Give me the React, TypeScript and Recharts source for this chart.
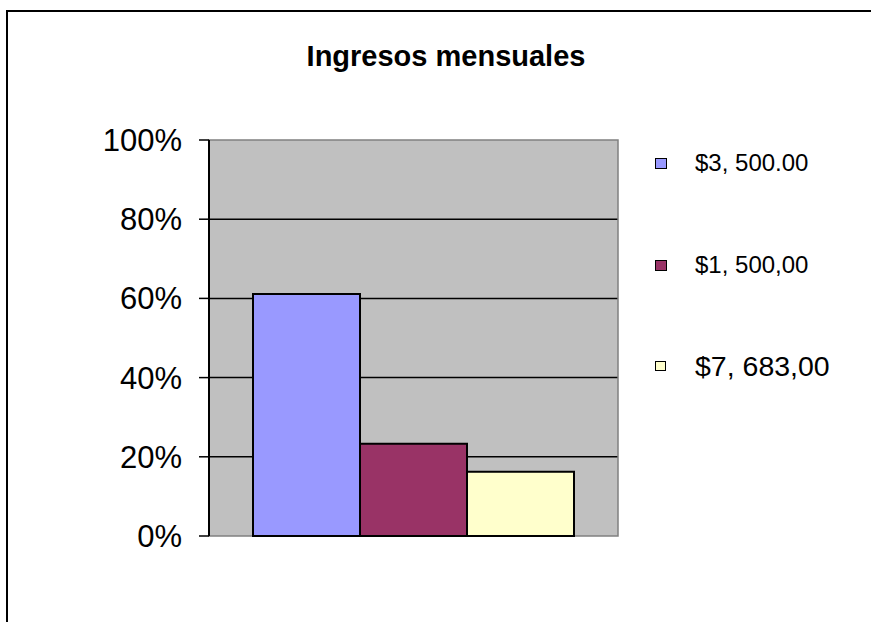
import React from 'react';
import { BarChart, Bar, XAxis, YAxis, CartesianGrid, ReferenceArea } from 'recharts';

// values (share of total, %)
const categories = ['Ingresos'];
const seriesNames = ['$3, 500.00', '$1, 500,00', '$7, 683,00'];
const seriesValues = [61.1, 23.3, 16.2];
const seriesColors = ['#9999FF', '#993366', '#FFFFCC'];
const yTicks = [0, 20, 40, 60, 80, 100];
const innerGridTicks = [20, 40, 60, 80];

const FONT = '"Liberation Sans", Arial, sans-serif';

const data = categories.map((name) => {
 const row: Record<string, string | number> = { name };
 seriesValues.forEach((v, i) => { row[`s${i}`] = v; });
 return row;
});

// per-item legend look (the last entry is drawn bigger in the original)
const legendLook = [
 { top: 163, fontSize: 24, box: 12 },
 { top: 265, fontSize: 24, box: 12 },
 { top: 366, fontSize: 28.5, box: 11 },
];

export default function App() {
 return (
 <div style={{ position: 'absolute', left: 0, top: 0, width: 871, height: 622, overflow: 'hidden', background: '#fff', fontFamily: FONT }}>
 {/* outer frame: only the left and top edges fall inside the picture */}
 <svg width={871} height={622} style={{ position: 'absolute', left: 0, top: 0 }}>
 <path d="M7 622 V11 H871" fill="none" stroke="#000" strokeWidth={2} />
 </svg>

 <div style={{ position: 'absolute', left: 0, top: 41.5, width: 892, textAlign: 'center', fontSize: 29, lineHeight: '29px', fontWeight: 'bold', color: '#000' }}>
 Ingresos mensuales
 </div>

 <div style={{ position: 'absolute', left: 0, top: 0 }}>
 <BarChart
 width={860}
 height={622}
 data={data}
 margin={{ top: 140, right: 242, bottom: 86, left: 109 }}
 barGap={0}
 >
 <CartesianGrid
 vertical={false}
 horizontalValues={innerGridTicks}
 stroke="#000"
 strokeWidth={1.5}
 fill="#C0C0C0"
 />
 <ReferenceArea y1={0} y2={100} fill="none" stroke="#808080" strokeWidth={1.5} ifOverflow="visible" />
 <XAxis dataKey="name" hide />
 <YAxis
 width={100}
 domain={[0, 100]}
 ticks={yTicks}
 interval={0}
 tickFormatter={(v) => `${v}%`}
 axisLine={{ stroke: '#000', strokeWidth: 2 }}
 tickLine={{ stroke: '#000', strokeWidth: 1.5 }}
 tickSize={10}
 tickMargin={17}
 tick={{ fontSize: 31, fill: '#000', fontFamily: FONT }}
 />
 {seriesNames.map((n, i) => (
 <Bar
 key={n}
 dataKey={`s${i}`}
 name={n}
 fill={seriesColors[i]}
 stroke="#000"
 strokeWidth={2}
 barSize={107}
 isAnimationActive={false}
 />
 ))}
 </BarChart>
 </div>

 {seriesNames.map((n, i) => {
 const look = legendLook[i];
 return (
 <div key={n} style={{ position: 'absolute', left: 655, top: look.top - 20, height: 40, display: 'flex', alignItems: 'center' }}>
 <div style={{ width: look.box, height: look.box - 1, boxSizing: 'border-box', border: '1.5px solid #000', background: seriesColors[i] }} />
 <div style={{ marginLeft: 40 - look.box, fontSize: look.fontSize, lineHeight: `${look.fontSize}px`, color: '#000', whiteSpace: 'nowrap' }}>{n}</div>
 </div>
 );
 })}
 </div>
 );
}
